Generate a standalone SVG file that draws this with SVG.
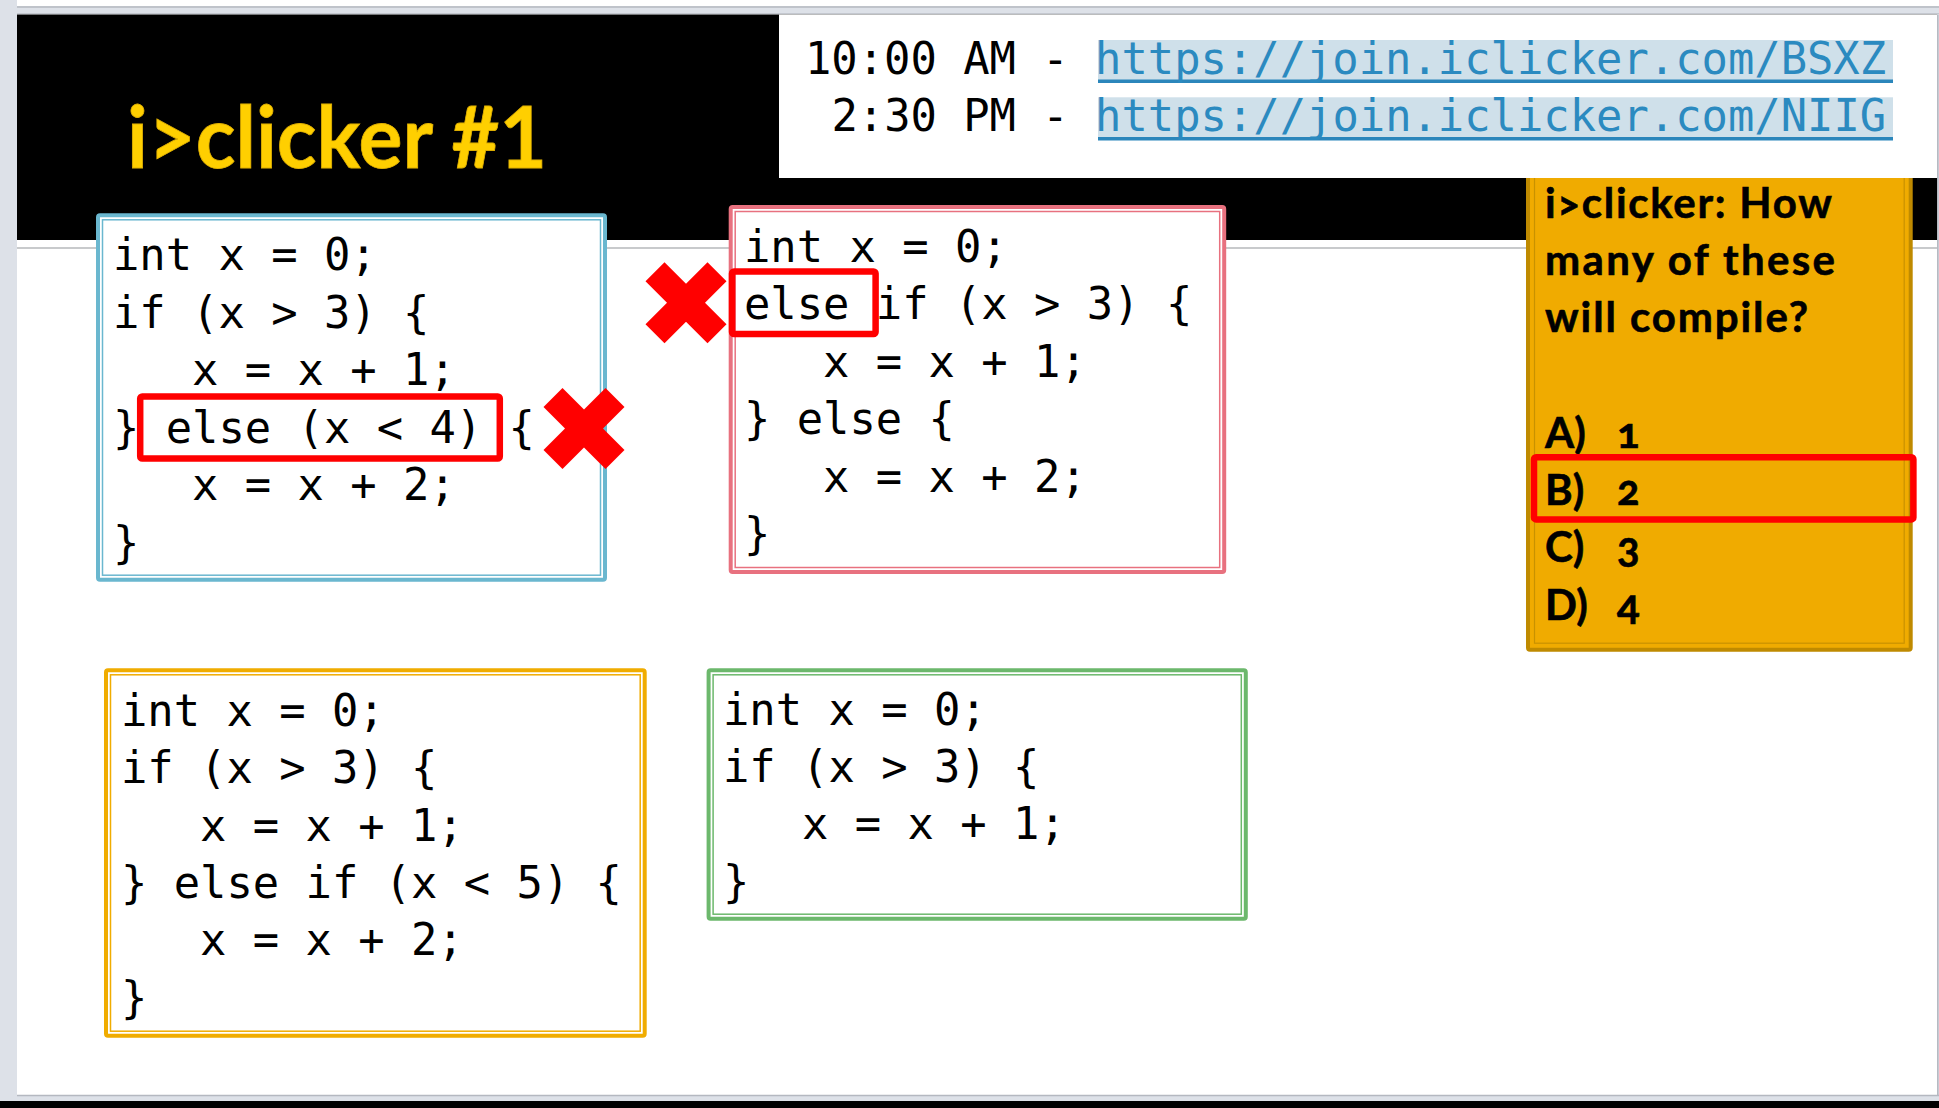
<svg xmlns="http://www.w3.org/2000/svg" width="1939" height="1108" viewBox="0 0 1939 1108">
<style>
.code{font-family:"DejaVu Sans Mono","Liberation Mono",monospace;font-size:43.8px;fill:#000}
.url{font-family:"DejaVu Sans Mono","Liberation Mono",monospace;font-size:43.8px}
.hl{fill:none;stroke:#ff0000;stroke-width:6.5}
.xm{fill:#ff0000}
.bo{fill:#fff;stroke-width:4}
.bi{fill:none;stroke-width:1.5}
.q{font-family:Lato,"Open Sans","Liberation Sans",sans-serif;font-weight:700;font-size:42px;fill:#000;stroke:#000;stroke-width:0.6;font-variant-numeric:oldstyle-nums}
</style>
<defs>
<polygon id="xmark" points="-40.5,-21.5 -21.5,-40.5 0,-19 21.5,-40.5 40.5,-21.5 19,0 40.5,21.5 21.5,40.5 0,19 -21.5,40.5 -40.5,21.5 -19,0"/>
</defs>
<g id="background">
<rect x="0" y="0" width="1939" height="1108" fill="#dde1e8"/>
<rect x="17" y="0" width="1922" height="6" fill="#ffffff"/>
<line x1="17" y1="7" x2="1939" y2="7" stroke="#b4b8c0" stroke-width="1.5"/>
<line x1="17" y1="13.5" x2="1939" y2="13.5" stroke="#c4c8d0" stroke-width="1"/>
<rect x="17" y="14.5" width="1920" height="1080.5" fill="#ffffff"/>
<line x1="1937.8" y1="14.5" x2="1937.8" y2="1095" stroke="#b4b8c0" stroke-width="1.5"/>
<line x1="17" y1="1095.5" x2="1939" y2="1095.5" stroke="#b4b8c0" stroke-width="1.5"/>
<rect x="0" y="1101" width="1939" height="7" fill="#000000"/>
</g>
<g id="header">
<rect x="17" y="14.5" width="1920" height="225.5" fill="#000000"/>
<line x1="17" y1="248" x2="1937" y2="248" stroke="#c8cacc" stroke-width="2"/>
</g>
<g id="title">
<text x="127" y="168" font-family="Lato,'Open Sans','Liberation Sans',sans-serif" font-weight="700" font-size="86" fill="#ffcf00" stroke="#e0b000" stroke-width="0.8" textLength="420" lengthAdjust="spacingAndGlyphs">i&gt;clicker #1</text>
</g>
<g id="question-panel">
<rect x="1528" y="165" width="382.7" height="484.7" fill="#f0ab00" stroke="#bf8a00" stroke-width="4" rx="2"/>
<rect x="1534.5" y="165" width="369.7" height="478.2" fill="none" stroke="#c89200" stroke-width="1.2"/>
<text class="q" x="1545" y="218.3" textLength="287">i&gt;clicker: How</text>
<text class="q" x="1545" y="275" textLength="290">many of these</text>
<text class="q" x="1545" y="331.7" textLength="263">will compile?</text>
<text class="q" x="1545" y="448">A)<tspan x="1617">1</tspan></text>
<text class="q" x="1545" y="505">B)<tspan x="1617">2</tspan></text>
<text class="q" x="1545" y="562">C)<tspan x="1617">3</tspan></text>
<text class="q" x="1545" y="620">D)<tspan x="1617">4</tspan></text>
<rect class="hl" x="1534" y="457.3" width="379.4" height="62.1" rx="2"/>
</g>
<g id="url-box">
<rect x="779" y="14.5" width="1158" height="163.5" fill="#ffffff"/>
<rect x="1098" y="40" width="795" height="40" fill="#cfe0ea"/>
<rect x="1098" y="79.5" width="795" height="3.5" fill="#2b86bb"/>
<rect x="1098" y="97.3" width="795" height="40" fill="#cfe0ea"/>
<rect x="1098" y="137" width="795" height="3.5" fill="#2b86bb"/>
<text class="url" x="805" y="74" fill="#000">10:00 AM - <tspan fill="#2b8ac0">https://join.iclicker.com/BSXZ</tspan></text>
<text class="url" x="831.4" y="130.7" fill="#000">2:30 PM - <tspan fill="#2b8ac0">https://join.iclicker.com/NIIG</tspan></text>
</g>
<g id="code-box-1">
<rect class="bo" x="98" y="215.3" width="507" height="364.4" stroke="#6ab7cf" rx="2"/>
<rect class="bi" x="102.5" y="219.8" width="498" height="355.4" stroke="#6ab7cf"/>
<text class="code" x="113" y="270">int x = 0;</text>
<text class="code" x="113" y="327.5">if (x &gt; 3) {</text>
<text class="code" x="192" y="385">x = x + 1;</text>
<text class="code" x="113" y="442.5">} else (x &lt; 4) {</text>
<text class="code" x="192" y="500">x = x + 2;</text>
<text class="code" x="113" y="557.5">}</text>
<rect class="hl" x="140.2" y="396.5" width="359.6" height="62" rx="2"/>
<use href="#xmark" class="xm" x="584" y="428.5"/>
</g>
<g id="code-box-2">
<rect class="bo" x="730.7" y="207" width="493.5" height="365" stroke="#e8717f" rx="2"/>
<rect class="bi" x="735.2" y="211.5" width="484.5" height="356" stroke="#e8717f"/>
<text class="code" x="744" y="262">int x = 0;</text>
<text class="code" x="744" y="319.4">else if (x &gt; 3) {</text>
<text class="code" x="823" y="376.8">x = x + 1;</text>
<text class="code" x="744" y="434.2">} else {</text>
<text class="code" x="823" y="491.6">x = x + 2;</text>
<text class="code" x="744" y="549">}</text>
<rect class="hl" x="732" y="271.5" width="143.6" height="62.6" rx="2"/>
<use href="#xmark" class="xm" x="686" y="302.7"/>
</g>
<g id="code-box-3">
<rect class="bo" x="106" y="670.3" width="538.7" height="365.4" stroke="#f0ac00" rx="2"/>
<rect class="bi" x="110.5" y="674.8" width="529.7" height="356.4" stroke="#f0ac00"/>
<text class="code" x="121" y="725.7">int x = 0;</text>
<text class="code" x="121" y="783.1">if (x &gt; 3) {</text>
<text class="code" x="200" y="840.5">x = x + 1;</text>
<text class="code" x="121" y="897.9">} else if (x &lt; 5) {</text>
<text class="code" x="200" y="955.3">x = x + 2;</text>
<text class="code" x="121" y="1012.7">}</text>
</g>
<g id="code-box-4">
<rect class="bo" x="708.6" y="670.3" width="537.2" height="248.4" stroke="#6cb86c" rx="2"/>
<rect class="bi" x="713.1" y="674.8" width="528.2" height="239.4" stroke="#6cb86c"/>
<text class="code" x="723" y="725">int x = 0;</text>
<text class="code" x="723" y="782">if (x &gt; 3) {</text>
<text class="code" x="802" y="839">x = x + 1;</text>
<text class="code" x="723" y="896.5">}</text>
</g>
<g id="connectors"/>
</svg>
